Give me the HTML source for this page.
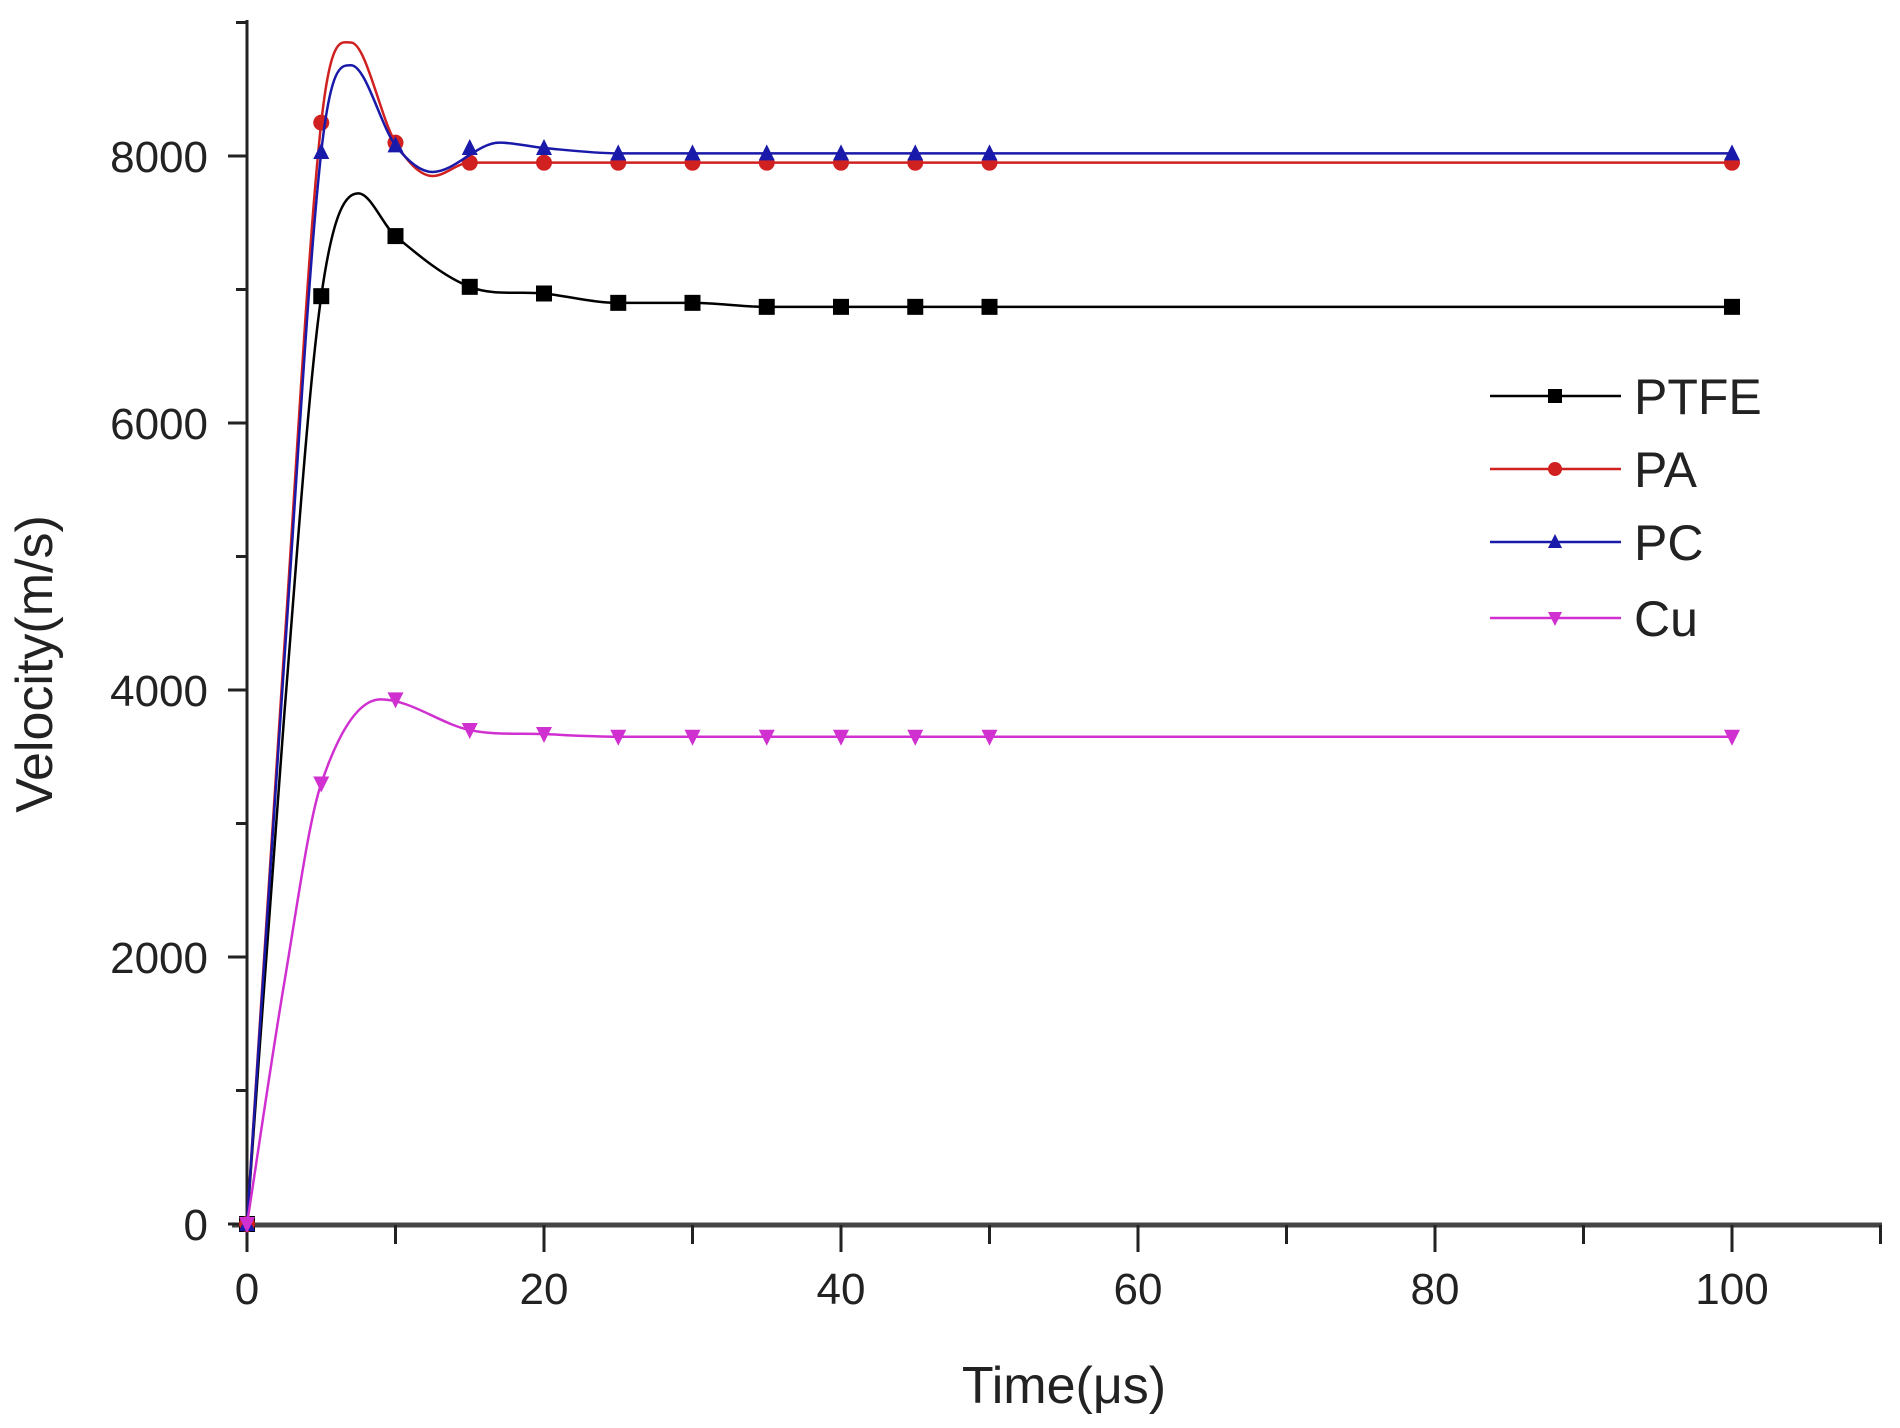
<!DOCTYPE html>
<html><head><meta charset="utf-8"><style>
html,body{margin:0;padding:0;background:#fff;}
svg{display:block;font-family:"Liberation Sans",Arial,sans-serif;}
</style></head><body>
<svg id="s" width="1900" height="1428" xmlns="http://www.w3.org/2000/svg">
<g id="g"></g>
<text x="1064" y="1403" font-size="52" text-anchor="middle" fill="#222">Time(μs)</text>
<text transform="translate(52,664) rotate(-90)" font-size="52" text-anchor="middle" fill="#222">Velocity(m/s)</text>
</svg>
<script>
const NS="http://www.w3.org/2000/svg",g=document.getElementById('g');
function el(t,a,txt){const e=document.createElementNS(NS,t);for(const k in a)e.setAttribute(k,a[k]);if(txt!==undefined)e.textContent=txt;g.appendChild(e);return e;}
const X=t=>247+14.85*t, Y=v=>1224-0.1335*v;
el('line',{x1:247,y1:20,x2:247,y2:1226,stroke:'#222','stroke-width':3});
el('line',{x1:232,y1:1225,x2:1882,y2:1225,stroke:'#444','stroke-width':5});
for(let v=0;v<=9000;v+=1000){const maj=v%2000==0;el('line',{x1:maj?228:236,y1:Y(v),x2:247,y2:Y(v),stroke:'#222','stroke-width':3});
 if(maj)el('text',{x:208,y:Y(v)+16,'font-size':44,'text-anchor':'end',fill:'#222'},v);}
for(let t=0;t<=110;t+=10){const maj=t%20==0;el('line',{x1:X(t),y1:1225,x2:X(t),y2:maj?1252:1244,stroke:'#222','stroke-width':3});
 if(maj)el('text',{x:X(t),y:1304,'font-size':44,'text-anchor':'middle',fill:'#222'},t);}
function path(pts,col){const P=pts.map(p=>[X(p[0]),Y(p[1])]);const n=P.length;
 const m=P.map((p,i)=>{if(i==0)return (P[1][1]-P[0][1])/(P[1][0]-P[0][0]);if(i==n-1)return 0;
  const a=(P[i][1]-P[i-1][1])/(P[i][0]-P[i-1][0]),b=(P[i+1][1]-P[i][1])/(P[i+1][0]-P[i][0]);
  if(a*b<=0)return 0;return (P[i+1][1]-P[i-1][1])/(P[i+1][0]-P[i-1][0]);});
 let d='M'+P[0];
 for(let i=0;i<n-1;i++){const h=(P[i+1][0]-P[i][0])/3;
  d+=' C'+[P[i][0]+h,P[i][1]+m[i]*h]+' '+[P[i+1][0]-h,P[i+1][1]-m[i+1]*h]+' '+P[i+1];}
 el('path',{d:d,fill:'none',stroke:col,'stroke-width':2.5});}
function mk(type,x,y,col,s){s=s||8;
 if(type=='sq')el('rect',{x:x-s,y:y-s,width:2*s,height:2*s,fill:col});
 else if(type=='ci')el('circle',{cx:x,cy:y,r:s,fill:col});
 else if(type=='up')el('polygon',{points:`${x},${y-s-1} ${x-s},${y+s-1} ${x+s},${y+s-1}`,fill:col});
 else el('polygon',{points:`${x},${y+s+1} ${x-s},${y-s+1} ${x+s},${y-s+1}`,fill:col});}
const S=[
 {c:'#000',m:'sq',d:[[0,0],[2.5,3800],[5,6950],[7.5,7720],[10,7400],[15,7020],[20,6970],[25,6900],[30,6900],[35,6870],[40,6870],[45,6870],[50,6870],[100,6870]]},
 {c:'#d02020',m:'ci',d:[[0,0],[2.5,4300],[5,8250],[7,8850],[10,8100],[12.5,7850],[15,7950],[20,7950],[25,7950],[30,7950],[35,7950],[40,7950],[45,7950],[50,7950],[100,7950]]},
 {c:'#1a1aaa',m:'up',d:[[0,0],[2.5,4200],[5,8030],[7,8680],[10,8080],[12.5,7880],[17,8100],[20,8060],[25,8020],[30,8020],[35,8020],[40,8020],[45,8020],[50,8020],[100,8020]]},
 {c:'#d030d0',m:'dn',d:[[0,0],[2.5,1800],[5,3300],[9,3930],[15,3700],[20,3670],[25,3650],[30,3650],[35,3650],[40,3650],[45,3650],[50,3650],[100,3650]]}];
const MK=[[0,0],[5,null],[10,null],[15,null],[20,null],[25,null],[30,null],[35,null],[40,null],[45,null],[50,null],[100,null]];
const markVals=[
 [0,6950,7400,7020,6970,6900,6900,6870,6870,6870,6870,6870],
 [0,8250,8100,7950,7950,7950,7950,7950,7950,7950,7950,7950],
 [0,8030,8080,8060,8060,8020,8020,8020,8020,8020,8020,8020],
 [0,3300,3930,3700,3670,3650,3650,3650,3650,3650,3650,3650]];
S.forEach((s,i)=>{path(s.d,s.c);MK.forEach((p,j)=>mk(s.m,X(p[0]),Y(markVals[i][j]),s.c));});
const L=[['PTFE',396],['PA',469],['PC',542],['Cu',618]];
L.forEach((l,i)=>{const s=S[i];el('line',{x1:1490,y1:l[1],x2:1621,y2:l[1],stroke:s.c,'stroke-width':2.5});
 mk(s.m,1555,l[1],s.c,7);el('text',{x:1634,y:l[1]+18,'font-size':50,fill:'#222'},l[0]);});
</script>
</body></html>
